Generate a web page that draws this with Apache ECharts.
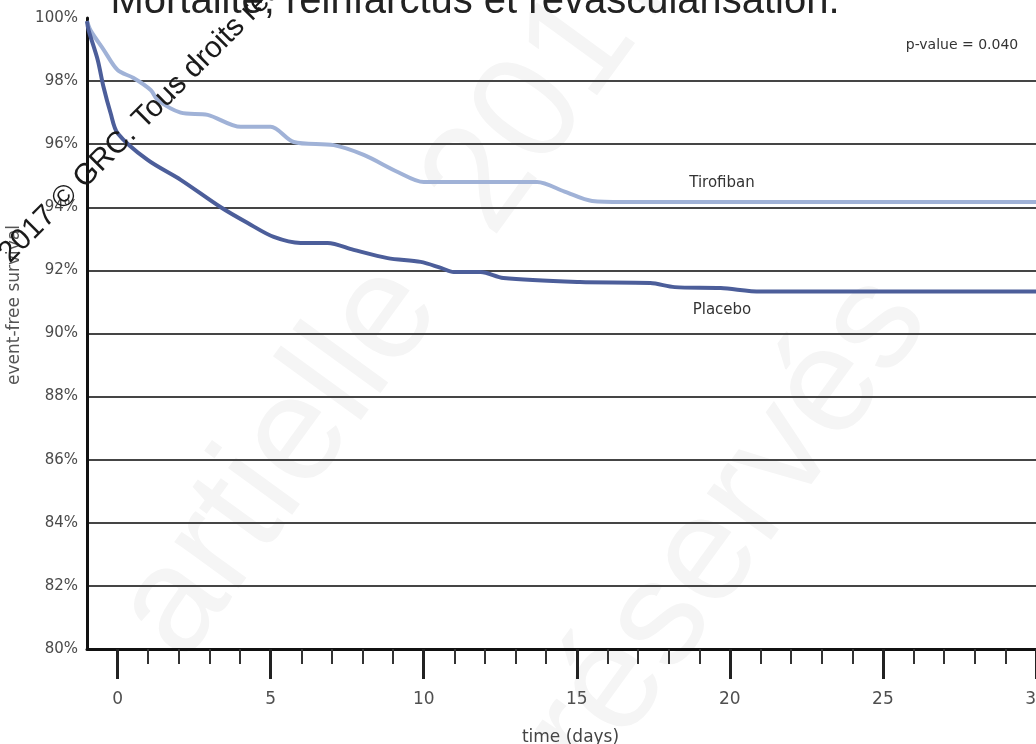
<!DOCTYPE html>
<html>
<head>
<meta charset="utf-8">
<script src="https://cdn.jsdelivr.net/npm/echarts@6/dist/echarts.min.js"></script>
<style>
html,body{margin:0;padding:0;background:#fff;}
#chart{width:1036px;height:744px;}
</style>
</head>
<body>
<div id="chart"></div>
<script>
// ---- data ----
const titleText = 'Mortalité, réinfarctus et revascularisation.';
const yAxisName = 'event-free survival';
const xAxisName = 'time (days)';
const pValueText = 'p-value = 0.040';
const watermarkText = '2017 © GRC. Tous droits réservés';

const majorTicks = [0, 5, 10, 15, 20, 25, 30];
const minorTicks = [1, 2, 3, 4, 6, 7, 8, 9, 11, 12, 13, 14, 16, 17, 18, 19, 21, 22, 23, 24, 26, 27, 28, 29];

const tirofibanDays = [-1, -0.88, -0.46, 0, 0.52, 1.08, 1.31, 2.06, 2.94, 4.02, 5.0, 5.75, 7.06, 8.04, 9.15, 10.0, 11.86, 13.7, 14.6, 15.5, 16.5, 20, 25, 30];
const tirofibanVals = [99.9, 99.6, 99.0, 98.35, 98.1, 97.72, 97.4, 97.0, 96.93, 96.55, 96.55, 96.07, 95.97, 95.66, 95.12, 94.8, 94.8, 94.8, 94.5, 94.2, 94.17, 94.17, 94.17, 94.17];

const placeboDays = [-1, -0.95, -0.65, -0.46, -0.23, 0, 0.98, 2.06, 3.37, 4.25, 5.1, 5.98, 6.86, 7.71, 8.82, 9.9, 10.56, 10.98, 11.86, 12.6, 15.1, 17.4, 18.2, 19.7, 21.0, 25, 30];
const placeboVals = [99.9, 99.62, 98.67, 97.81, 96.99, 96.35, 95.5, 94.87, 94.0, 93.5, 93.06, 92.87, 92.87, 92.65, 92.39, 92.27, 92.08, 91.95, 91.95, 91.76, 91.63, 91.6, 91.47, 91.44, 91.33, 91.33, 91.33];

const seriesNames = ['Tirofiban', 'Placebo'];
// ----------------------------------------

const zip = (xs, ys) => xs.map((x, i) => [x, ys[i]]);
const chart = echarts.init(document.getElementById('chart'), null, {renderer: 'canvas'});
const labelFont = 'DejaVu Sans';

chart.setOption({
  backgroundColor: '#ffffff',
  animation: false,
  grid: {left: 87, right: 0, top: 18, bottom: 95, containLabel: false, outerBoundsMode: 'none'},
  xAxis: [{
    type: 'value', min: -1, max: 30,
    axisLine: {show: true, onZero: false, lineStyle: {color: '#111', width: 3}},
    axisTick: {show: true, customValues: majorTicks, length: 30, lineStyle: {color: '#222', width: 3}},
    axisLabel: {show: true, customValues: majorTicks, margin: 42, color: '#4f4f4f', fontFamily: labelFont, fontSize: 17},
    splitLine: {show: false},
    name: xAxisName, nameLocation: 'middle', nameGap: 80,
    nameTextStyle: {color: '#444', fontFamily: labelFont, fontSize: 17, padding: [0, 0, 0, 18]}
  }, {
    type: 'value', min: -1, max: 30, position: 'bottom',
    axisLine: {show: false, onZero: false},
    axisTick: {show: true, customValues: minorTicks, length: 15, lineStyle: {color: '#333', width: 2}},
    axisLabel: {show: false},
    splitLine: {show: false}
  }],
  yAxis: {
    type: 'value', min: 80, max: 100, interval: 2,
    axisLine: {show: true, onZero: false, lineStyle: {color: '#111', width: 3}},
    axisTick: {show: false},
    axisLabel: {formatter: '{value}%', margin: 9, color: '#4a4a4a', fontFamily: labelFont, fontSize: 15},
    splitLine: {show: true, showMaxLine: false, showMinLine: false, lineStyle: {color: '#454545', width: 2}}
  },
  series: [{
    name: seriesNames[0], type: 'line', xAxisIndex: 0,
    data: zip(tirofibanDays, tirofibanVals),
    smooth: 0.3, showSymbol: false,
    lineStyle: {color: '#a0b2d7', width: 4},
    z: 3
  }, {
    name: seriesNames[1], type: 'line', xAxisIndex: 0,
    data: zip(placeboDays, placeboVals),
    smooth: 0.3, showSymbol: false,
    lineStyle: {color: '#4c5e9a', width: 4},
    z: 4
  }],
  graphic: [
    {type: 'text', x: 150, y: 640, rotation: Math.PI * 0.3, z: 0, silent: true,
     style: {text: 'artielle  2017 ©', fontSize: 150, fontFamily: 'Liberation Sans', fill: '#f5f5f5', textAlign: 'left', textVerticalAlign: 'middle'}},
    {type: 'text', x: 560, y: 760, rotation: Math.PI * 0.3, z: 0, silent: true,
     style: {text: 'réservés', fontSize: 150, fontFamily: 'Liberation Sans', fill: '#f5f5f5', textAlign: 'left', textVerticalAlign: 'middle'}},
    // y axis name
    {type: 'text', x: 15, y: 305, rotation: Math.PI / 2, z: 5,
     style: {text: yAxisName, fontSize: 17, fontFamily: labelFont, fill: '#555', textAlign: 'center', textVerticalAlign: 'middle'}},
    {type: 'text', x: 475, y: 22, z: 10,
     style: {text: titleText, fontSize: 40, fontFamily: 'Liberation Sans', fill: '#222', textAlign: 'center', textVerticalAlign: 'bottom'}},
    {type: 'text', x: 4, y: 258, rotation: Math.PI / 4, z: 10,
     style: {text: watermarkText, fontSize: 30, fontFamily: 'Liberation Sans', fill: '#1a1a1a', textAlign: 'left', textVerticalAlign: 'middle'}},
    {type: 'text', x: 962, y: 45, z: 10,
     style: {text: pValueText, fontSize: 14, fontFamily: labelFont, fill: '#333', textAlign: 'center', textVerticalAlign: 'middle'}},
    {type: 'text', x: 722, y: 183, z: 10,
     style: {text: seriesNames[0], fontSize: 15, fontFamily: labelFont, fill: '#333', textAlign: 'center', textVerticalAlign: 'middle'}},
    {type: 'text', x: 722, y: 310, z: 10,
     style: {text: seriesNames[1], fontSize: 15, fontFamily: labelFont, fill: '#333', textAlign: 'center', textVerticalAlign: 'middle'}}
  ]
});
</script>
</body>
</html>
